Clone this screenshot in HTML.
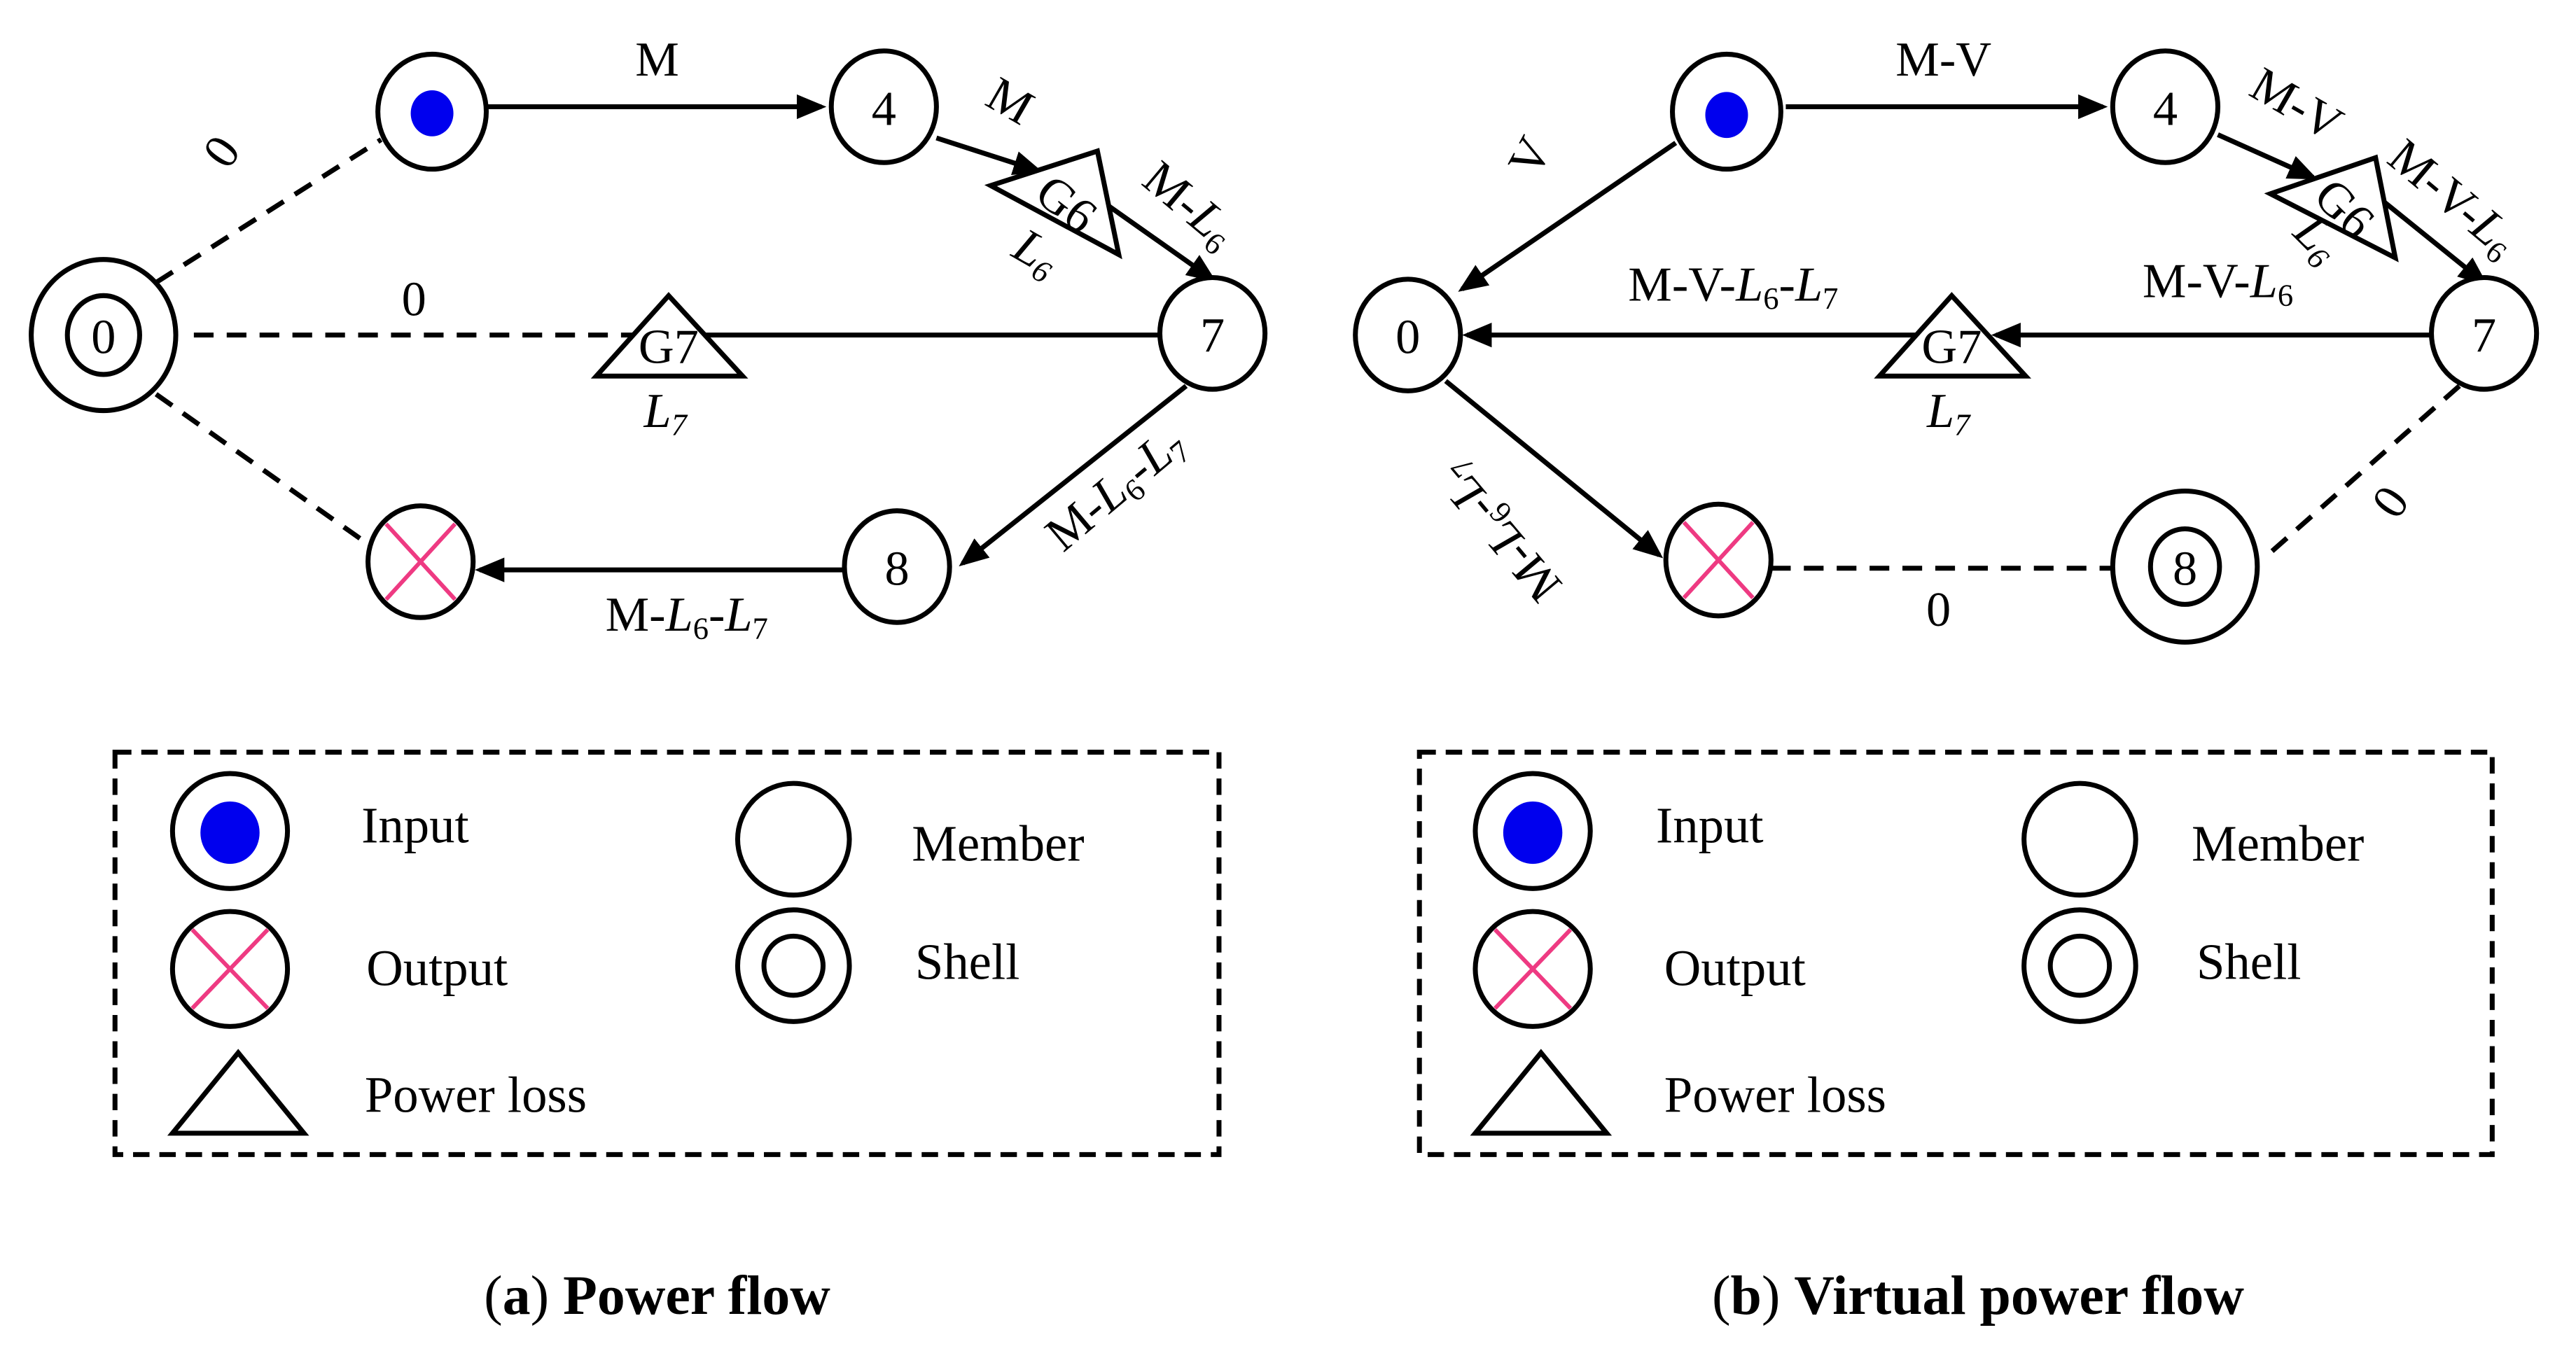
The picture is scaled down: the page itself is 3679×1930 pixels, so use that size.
<!DOCTYPE html>
<html><head><meta charset="utf-8"><style>html,body{margin:0;padding:0;background:#fff}svg{display:block}</style></head><body>
<svg width="3679" height="1930" viewBox="0 0 1568 822.6" preserveAspectRatio="none" xmlns="http://www.w3.org/2000/svg" font-family="'Liberation Serif',serif">
<defs>
<marker id="a" markerWidth="6" markerHeight="6" refX="5" refY="3" orient="auto" markerUnits="strokeWidth"><path d="M0,0.5 L6,3 L0,5.5 z" fill="#000"/></marker>
</defs>
<g stroke="#000" stroke-width="3" fill="none">
<line x1="95" y1="172" x2="232" y2="85" stroke-dasharray="12,8"/>
<line x1="95" y1="240" x2="225" y2="332" stroke-dasharray="12,8"/>
<line x1="118" y1="204" x2="385" y2="204" stroke-dasharray="12,8"/>
<line x1="385" y1="204" x2="705" y2="204"/>
<line x1="297" y1="65" x2="500" y2="65" marker-end="url(#a)"/>
<line x1="570" y1="84" x2="632" y2="104" marker-end="url(#a)"/>
<line x1="670" y1="122" x2="738" y2="170" marker-end="url(#a)"/>
<line x1="722" y1="235" x2="586" y2="343" marker-end="url(#a)"/>
<line x1="513" y1="347" x2="292" y2="347" marker-end="url(#a)"/>
<ellipse cx="263" cy="68" rx="33" ry="35" fill="#fff"/>
<ellipse cx="538" cy="65" rx="32" ry="34" fill="#fff"/>
<ellipse cx="738" cy="203" rx="32" ry="34" fill="#fff"/>
<ellipse cx="63" cy="204" rx="44" ry="46" fill="#fff"/>
<ellipse cx="63" cy="204" rx="22" ry="24"/>
<ellipse cx="256" cy="342" rx="32" ry="34" fill="#fff"/>
<ellipse cx="546" cy="345" rx="32" ry="34" fill="#fff"/>
<polygon points="363,229 407,180 452,229" fill="#fff"/>
<polygon points="603,113 668,92 681,155" fill="#fff"/>
<line x1="1020" y1="87" x2="890" y2="176" marker-end="url(#a)"/>
<line x1="1087" y1="65" x2="1280" y2="65" marker-end="url(#a)"/>
<line x1="1350" y1="82" x2="1408" y2="108" marker-end="url(#a)"/>
<line x1="1450" y1="122" x2="1512" y2="172" marker-end="url(#a)"/>
<line x1="1480" y1="204" x2="1215" y2="204" marker-end="url(#a)"/>
<line x1="1170" y1="204" x2="893" y2="204" marker-end="url(#a)"/>
<line x1="880" y1="232" x2="1010" y2="338" marker-end="url(#a)"/>
<line x1="1078" y1="346" x2="1288" y2="346" stroke-dasharray="12,8"/>
<line x1="1497" y1="235" x2="1378" y2="340" stroke-dasharray="12,8"/>
<ellipse cx="1051" cy="68" rx="33" ry="35" fill="#fff"/>
<ellipse cx="1318" cy="65" rx="32" ry="34" fill="#fff"/>
<ellipse cx="1512" cy="203" rx="32" ry="34" fill="#fff"/>
<ellipse cx="857" cy="204" rx="32" ry="34" fill="#fff"/>
<ellipse cx="1046" cy="341" rx="32" ry="34" fill="#fff"/>
<ellipse cx="1330" cy="345" rx="44" ry="46" fill="#fff"/>
<ellipse cx="1330" cy="345" rx="21" ry="23"/>
<polygon points="1144,229 1188,180 1233,229" fill="#fff"/>
<polygon points="1382,118 1446,96 1458,157" fill="#fff"/>
<rect x="70" y="458" width="672" height="245" stroke-dasharray="10,6"/>
<rect x="864" y="458" width="653" height="245" stroke-dasharray="10,6"/>
<circle cx="140" cy="506" r="35"/><circle cx="483" cy="511" r="34"/>
<circle cx="140" cy="590" r="35"/><circle cx="483" cy="588" r="34"/><circle cx="483" cy="588" r="18"/>
<polygon points="105,690 145,641 185,690"/>
<circle cx="933" cy="506" r="35"/><circle cx="1266" cy="511" r="34"/>
<circle cx="933" cy="590" r="35"/><circle cx="1266" cy="588" r="34"/><circle cx="1266" cy="588" r="18"/>
<polygon points="898,690 938,641 978,690"/>
</g>
<g stroke="#ee3a82" stroke-width="2.5">
<line x1="235" y1="319" x2="277" y2="365"/><line x1="277" y1="319" x2="235" y2="365"/>
<line x1="1025" y1="318" x2="1067" y2="364"/><line x1="1067" y1="318" x2="1025" y2="364"/>
<line x1="117" y1="566" x2="163" y2="614"/><line x1="163" y1="566" x2="117" y2="614"/>
<line x1="910" y1="566" x2="956" y2="614"/><line x1="956" y1="566" x2="910" y2="614"/>
</g>
<g fill="#0000ee">
<ellipse cx="263" cy="69" rx="13" ry="14"/><ellipse cx="1051" cy="70" rx="13" ry="14"/>
<ellipse cx="140" cy="507" rx="18" ry="19"/><ellipse cx="933" cy="507" rx="18" ry="19"/>
</g>
<g font-size="30" text-anchor="middle" fill="#000">
<text x="63" y="215">0</text><text x="538" y="76">4</text><text x="738" y="214">7</text><text x="546" y="356">8</text>
<text x="857" y="215">0</text><text x="1318" y="76">4</text><text x="1512" y="214">7</text><text x="1330" y="356">8</text>
<text x="400" y="46">M</text><text x="252" y="192">0</text>
<text transform="translate(143,98) rotate(-55)">0</text>
<text transform="translate(610,70) rotate(30)">M</text>
<text transform="translate(643,132) rotate(38)">G6</text>
<text transform="translate(626,162) rotate(30)" font-style="italic">L<tspan font-size="19" dy="5">6</tspan></text>
<text transform="translate(718,132) rotate(40)">M-<tspan font-style="italic">L</tspan><tspan font-size="19" dy="5">6</tspan></text>
<text x="407" y="221">G7</text>
<text x="405" y="260" font-style="italic">L<tspan font-size="19" dy="5">7</tspan></text>
<text transform="translate(685,305) rotate(-40)">M-<tspan font-style="italic">L</tspan><tspan font-size="19" dy="5">6</tspan><tspan dy="-5">-</tspan><tspan font-style="italic">L</tspan><tspan font-size="19" dy="5">7</tspan></text>
<text x="418" y="384">M-<tspan font-style="italic">L</tspan><tspan font-size="19" dy="5">6</tspan><tspan dy="-5">-</tspan><tspan font-style="italic">L</tspan><tspan font-size="19" dy="5">7</tspan></text>
<text x="1183" y="46">M-V</text>
<text transform="translate(940,100) rotate(-62)">V</text>
<text transform="translate(1393,72) rotate(30)">M-V</text>
<text transform="translate(1420,134) rotate(45)">G6</text>
<text transform="translate(1404,152) rotate(45)" font-style="italic">L<tspan font-size="19" dy="5">6</tspan></text>
<text transform="translate(1487,128) rotate(40)">M-V-<tspan font-style="italic">L</tspan><tspan font-size="19" dy="5">6</tspan></text>
<text x="1055" y="183">M-V-<tspan font-style="italic">L</tspan><tspan font-size="19" dy="5">6</tspan><tspan dy="-5">-</tspan><tspan font-style="italic">L</tspan><tspan font-size="19" dy="5">7</tspan></text>
<text x="1350" y="181">M-V-<tspan font-style="italic">L</tspan><tspan font-size="19" dy="5">6</tspan></text>
<text x="1188" y="221">G7</text>
<text x="1186" y="260" font-style="italic">L<tspan font-size="19" dy="5">7</tspan></text>
<text transform="translate(920,318) rotate(230)">M-<tspan font-style="italic">L</tspan><tspan font-size="19" dy="5">6</tspan><tspan dy="-5">-</tspan><tspan font-style="italic">L</tspan><tspan font-size="19" dy="5">7</tspan></text>
<text x="1180" y="381">0</text>
<text transform="translate(1447,300) rotate(125)">0</text>
</g>
<g font-size="31" fill="#000">
<text x="220" y="513">Input</text><text x="555" y="524">Member</text>
<text x="223" y="600">Output</text><text x="557" y="596">Shell</text>
<text x="222" y="677">Power loss</text>
<text x="1008" y="513">Input</text><text x="1334" y="524">Member</text>
<text x="1013" y="600">Output</text><text x="1337" y="596">Shell</text>
<text x="1013" y="677">Power loss</text>
</g>
<g font-size="34" text-anchor="middle" fill="#000">
<text x="400" y="800">(<tspan font-weight="bold">a</tspan>) <tspan font-weight="bold">Power flow</tspan></text>
<text x="1204" y="800">(<tspan font-weight="bold">b</tspan>) <tspan font-weight="bold">Virtual power flow</tspan></text>
</g>
</svg>
</body></html>
